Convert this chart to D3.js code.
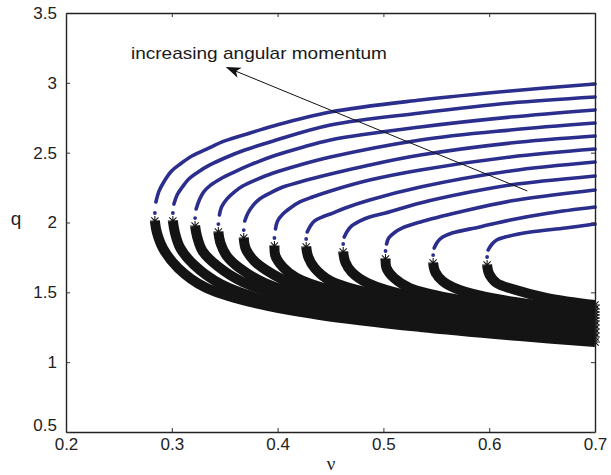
<!DOCTYPE html>
<html><head><meta charset="utf-8">
<script src="https://cdn.jsdelivr.net/npm/d3@7"></script>
<style>body{margin:0;background:#fff}svg{display:block}</style>
</head><body>
<svg id="c" width="611" height="475"></svg>
<script>
// ---- data ----
const xTicks = [0.2, 0.3, 0.4, 0.5, 0.6, 0.7];
const yTicks = [0.5, 1, 1.5, 2, 2.5, 3, 3.5];
const xLabel = "ν";
const yLabel = "q";
const annotationText = "increasing angular momentum";
const annotationAt = [0.2614, 3.171];
const arrowFrom = [0.636, 2.226];
const arrowTo = [0.351, 3.113];

// upper branch (blue dots) of each curve: [nu, q]
const upperBranches = [
  [[0.284,2.068],[0.285,2.147],[0.288,2.226],[0.293,2.297],[0.299,2.362],[0.308,2.419],[0.319,2.476],[0.333,2.526],[0.350,2.584],[0.374,2.641],[0.396,2.691],[0.450,2.791],[0.535,2.877],[0.620,2.942],[0.700,2.992]],
  [[0.301,2.068],[0.302,2.132],[0.305,2.197],[0.310,2.254],[0.316,2.312],[0.325,2.362],[0.336,2.412],[0.350,2.462],[0.369,2.519],[0.396,2.584],[0.450,2.698],[0.535,2.784],[0.620,2.856],[0.700,2.899]],
  [[0.322,2.032],[0.323,2.097],[0.326,2.161],[0.330,2.218],[0.337,2.269],[0.346,2.312],[0.357,2.354],[0.374,2.412],[0.396,2.476],[0.421,2.533],[0.450,2.591],[0.535,2.684],[0.620,2.755],[0.700,2.806]],
  [[0.344,1.989],[0.345,2.054],[0.347,2.111],[0.352,2.168],[0.359,2.218],[0.367,2.261],[0.379,2.304],[0.396,2.354],[0.421,2.412],[0.450,2.469],[0.535,2.591],[0.620,2.662],[0.700,2.712]],
  [[0.368,1.946],[0.369,2.011],[0.372,2.068],[0.377,2.125],[0.383,2.168],[0.393,2.211],[0.405,2.254],[0.421,2.290],[0.450,2.347],[0.487,2.412],[0.535,2.483],[0.620,2.569],[0.700,2.619]],
  [[0.397,1.889],[0.398,1.954],[0.400,2.011],[0.405,2.061],[0.412,2.104],[0.421,2.147],[0.433,2.183],[0.450,2.226],[0.487,2.304],[0.535,2.376],[0.620,2.469],[0.700,2.526]],
  [[0.427,1.882],[0.428,1.932],[0.431,1.975],[0.435,2.011],[0.442,2.039],[0.450,2.061],[0.464,2.104],[0.487,2.161],[0.535,2.254],[0.620,2.369],[0.700,2.433]],
  [[0.462,1.846],[0.463,1.896],[0.466,1.939],[0.470,1.975],[0.478,2.011],[0.487,2.039],[0.502,2.068],[0.535,2.140],[0.582,2.218],[0.620,2.269],[0.700,2.333]],
  [[0.502,1.796],[0.503,1.846],[0.505,1.889],[0.510,1.925],[0.518,1.961],[0.535,2.004],[0.572,2.075],[0.620,2.154],[0.700,2.233]],
  [[0.547,1.767],[0.548,1.817],[0.551,1.860],[0.556,1.896],[0.565,1.925],[0.591,1.968],[0.620,2.018],[0.657,2.068],[0.700,2.111]],
  [[0.598,1.753],[0.599,1.803],[0.602,1.839],[0.607,1.875],[0.615,1.896],[0.639,1.932],[0.672,1.961],[0.700,1.989]]
];

// lower branch (black asterisks) of each curve: [nu, q]
const lowerBranches = [
  [[0.284,2.011],[0.286,1.925],[0.292,1.810],[0.306,1.674],[0.331,1.538],[0.374,1.431],[0.440,1.338],[0.535,1.252],[0.629,1.187],[0.700,1.144]],
  [[0.301,2.011],[0.303,1.925],[0.308,1.817],[0.321,1.696],[0.346,1.560],[0.388,1.445],[0.450,1.359],[0.535,1.281],[0.629,1.223],[0.700,1.180]],
  [[0.322,1.975],[0.324,1.896],[0.329,1.796],[0.343,1.689],[0.367,1.574],[0.407,1.474],[0.468,1.388],[0.563,1.302],[0.700,1.209]],
  [[0.344,1.932],[0.346,1.853],[0.352,1.760],[0.364,1.674],[0.388,1.567],[0.431,1.467],[0.516,1.366],[0.610,1.295],[0.700,1.238]],
  [[0.368,1.889],[0.370,1.810],[0.378,1.724],[0.389,1.660],[0.414,1.560],[0.459,1.459],[0.563,1.352],[0.700,1.266]],
  [[0.397,1.832],[0.398,1.760],[0.405,1.681],[0.418,1.603],[0.450,1.517],[0.516,1.424],[0.610,1.345],[0.700,1.295]],
  [[0.427,1.825],[0.429,1.753],[0.435,1.674],[0.450,1.581],[0.487,1.495],[0.563,1.402],[0.700,1.316]],
  [[0.462,1.789],[0.464,1.717],[0.470,1.646],[0.485,1.567],[0.525,1.474],[0.591,1.402],[0.700,1.338]],
  [[0.502,1.739],[0.503,1.674],[0.510,1.603],[0.525,1.531],[0.563,1.459],[0.629,1.395],[0.700,1.359]],
  [[0.547,1.710],[0.549,1.646],[0.556,1.581],[0.572,1.517],[0.607,1.452],[0.657,1.402],[0.700,1.381]],
  [[0.598,1.696],[0.600,1.631],[0.607,1.567],[0.622,1.524],[0.655,1.459],[0.700,1.409]]
];

// ---- drawing ----
const W = 611, H = 475;
const margin = {left: 66, right: 16, top: 13, bottom: 43};
const x = d3.scaleLinear().domain([0.2, 0.7]).range([margin.left, W - margin.right]);
const y = d3.scaleLinear().domain([0.5, 3.5]).range([H - margin.bottom, margin.top]);
const svg = d3.select("#c");
const FONT = "'Liberation Sans', Arial, Helvetica, sans-serif";
const BLUE = "#2b2e8c", BLACK = "#141414";

const line = d3.line().x(d => x(d[0])).y(d => y(d[1])).curve(d3.curveCatmullRom.alpha(0.5));

// upper branches: sparse dots at the turning point, then dense (solid-looking) run
svg.append("g").selectAll("path").data(upperBranches).join("path")
  .attr("d", d => line(d.slice(1))).attr("fill", "none").attr("stroke", BLUE)
  .attr("stroke-width", 3.6).attr("stroke-linecap", "round");
svg.append("g").selectAll("circle").data(upperBranches.map(b => b[0])).join("circle")
  .attr("cx", d => x(d[0])).attr("cy", d => y(d[1])).attr("r", 1.9).attr("fill", BLUE);

// lower branches (thick band of asterisks)
svg.append("g").selectAll("path").data(lowerBranches).join("path")
  .attr("d", line).attr("fill", "none").attr("stroke", BLACK)
  .attr("stroke-width", 10).attr("stroke-linejoin", "round").attr("stroke-linecap", "butt");

// asterisk markers at read points near the turning point and at the right edge
const star = "M-5,0H5M0,-5V5M-3.6,-3.6L3.6,3.6M-3.6,3.6L3.6,-3.6";
const starPts = [];
lowerBranches.forEach(b => { starPts.push(b[0], b[1], b[b.length - 1]); });
svg.append("g").selectAll("path").data(starPts).join("path")
  .attr("transform", d => `translate(${x(d[0])},${y(d[1])})`)
  .attr("d", star).attr("stroke", BLACK).attr("stroke-width", 1.1).attr("fill", "none");

// axes
const fmt = d => String(d);
const axStyle = g => {
  g.select(".domain").attr("stroke", "#222").attr("stroke-width", 1.4);
  g.selectAll(".tick line").attr("stroke", "#333").attr("stroke-width", 1);
  g.selectAll(".tick text").attr("font-family", FONT).attr("font-size", 17).attr("fill", "#222");
};
svg.append("g").attr("transform", `translate(0,${y(0.5)})`)
  .call(d3.axisBottom(x).tickValues(xTicks).tickFormat(fmt).tickSizeInner(-4).tickSizeOuter(0).tickPadding(6))
  .call(axStyle);
const yAx = svg.append("g").attr("transform", `translate(${x(0.2)},0)`)
  .call(d3.axisLeft(y).tickValues(yTicks).tickFormat(fmt).tickSizeInner(-4).tickSizeOuter(0).tickPadding(9))
  .call(axStyle);
yAx.selectAll(".tick").filter(d => d === 0.5).select("text").attr("dy", "-0.1em");
svg.append("g").attr("transform", `translate(0,${y(3.5)})`)
  .call(d3.axisTop(x).tickValues(xTicks).tickFormat("").tickSizeInner(-4).tickSizeOuter(0))
  .call(axStyle);
svg.append("g").attr("transform", `translate(${x(0.7)},0)`)
  .call(d3.axisRight(y).tickValues(yTicks).tickFormat("").tickSizeInner(-4).tickSizeOuter(0))
  .call(axStyle);

// axis labels
svg.append("text").attr("x", (x(0.2) + x(0.7)) / 2 + 0.5).attr("y", 470)
  .attr("text-anchor", "middle").attr("font-family", "'Liberation Serif', 'DejaVu Serif', serif")
  .attr("font-size", 19).attr("fill", "#222").text(xLabel);
svg.append("text").attr("x", 16).attr("y", 225)
  .attr("text-anchor", "middle").attr("font-family", FONT)
  .attr("font-size", 19).attr("fill", "#222").text(yLabel);

// annotation
svg.append("text").attr("x", x(annotationAt[0])).attr("y", y(annotationAt[1]))
  .attr("font-family", FONT).attr("font-size", 17).attr("fill", "#1a1a1a")
  .attr("textLength", 256).attr("lengthAdjust", "spacingAndGlyphs")
  .text(annotationText);

const tx = x(arrowTo[0]), ty = y(arrowTo[1]);
const fx = x(arrowFrom[0]), fy = y(arrowFrom[1]);
const len = Math.hypot(tx - fx, ty - fy);
const ux = (tx - fx) / len, uy = (ty - fy) / len;
const px = -uy, py = ux;
const L = 15, hw = 5.5, notch = 4;
svg.append("line").attr("x1", fx).attr("y1", fy)
  .attr("x2", tx - (L - notch) * ux).attr("y2", ty - (L - notch) * uy)
  .attr("stroke", "#111").attr("stroke-width", 1);
svg.append("path")
  .attr("d", `M${tx},${ty}L${tx - L * ux + hw * px},${ty - L * uy + hw * py}L${tx - (L - notch) * ux},${ty - (L - notch) * uy}L${tx - L * ux - hw * px},${ty - L * uy - hw * py}Z`)
  .attr("fill", "#111");
</script>
</body></html>
